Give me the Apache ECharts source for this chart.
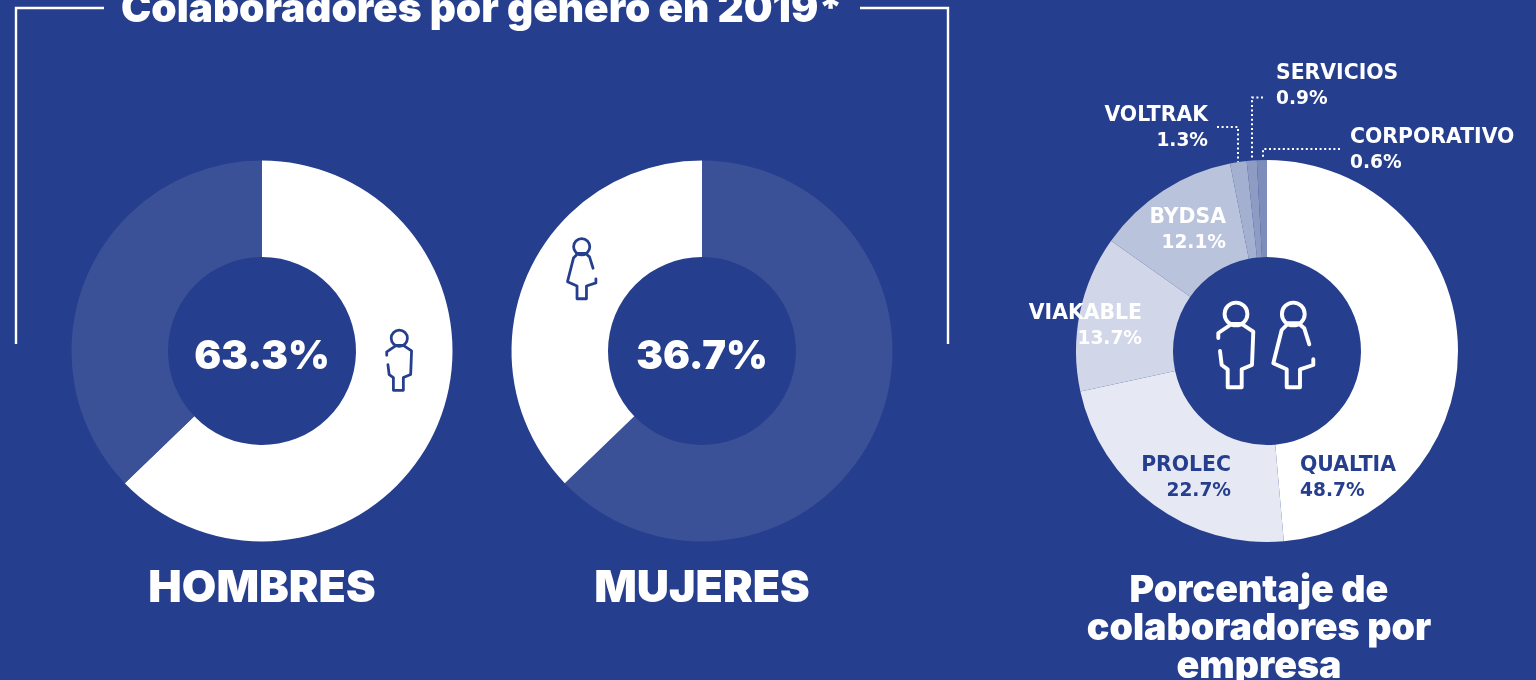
<!DOCTYPE html>
<html>
<head>
<meta charset="utf-8">
<title>Colaboradores por genero en 2019</title>
<script src="https://cdn.jsdelivr.net/npm/echarts@6/dist/echarts.min.js"></script>
<style>
  html, body { margin: 0; padding: 0; background: #263e8e; }
  #chart { width: 1536px; height: 680px; }
</style>
</head>
<body>
<div id="chart"></div>
<script>
const chartTitle = 'Colaboradores por genero en 2019*'
const companyTitle = ['Porcentaje de', 'colaboradores por', 'empresa']
const genderNames = ['HOMBRES', 'MUJERES']
const genderLabels = [63.3, 36.7]
// the rings in the picture are not drawn exactly to their printed labels,
// so the arcs are read off the picture and the labels are kept apart
const hombresArc = [62.8, 37.2]
const mujeresArc = [62.8, 37.2]
const empresas = ['QUALTIA', 'PROLEC', 'VIAKABLE', 'BYDSA', 'VOLTRAK', 'SERVICIOS', 'CORPORATIVO']
const empresaLabels = [48.7, 22.7, 13.7, 12.1, 1.3, 0.9, 0.6]
const empresaArc = [48.6, 23.0, 13.2, 12.1, 1.4, 0.85, 0.85]

const NAVY = '#263e8e'
const DIM = '#3b5197'
const WHITE = '#ffffff'
const FONT = 'Inter, "Noto Sans", sans-serif'
const LABEL_FONT = '"DejaVu Sans", sans-serif'
const empresaColors = ['#ffffff', '#e6e9f3', '#d1d7e8', '#bac3dc', '#a4b0d0', '#8e9cc4', '#7d8dbb']
const empresaLabelColors = [NAVY, NAVY, WHITE, WHITE, WHITE, WHITE, WHITE]
// anchor of each company label: x, y of the text block, alignment
const empresaLabelPos = [
  [1300, 478, 'left'],
  [1231, 478, 'right'],
  [1142, 326, 'right'],
  [1226, 230, 'right'],
  [1208, 128, 'right'],
  [1276, 86, 'left'],
  [1350, 150, 'left']
]

// icon outlines, relative to the centre of the head
const manParts = [[-17.7, 24], [-17.7, 19], [-4.3, 10], [5.7, 10], [17.3, 17.7], [16, 51], [5.7, 55.3], [5.7, 73.3], [-8.3, 73.3], [-8.3, 55.3], [-14.3, 51], [-16, 37]]
const womanParts = [[16, 30.3], [11, 14.3], [5, 9.3], [-5, 9.3], [-11.6, 16], [-20, 49.3], [-6.6, 55.3], [-6.6, 73.3], [6.7, 73.3], [6.7, 55.3], [20, 51], [20, 45.3]]

function icon(points, x, y, scale, color) {
  const style = { fill: null, stroke: color, lineWidth: 3.9, lineCap: 'round', lineJoin: 'round' }
  return {
    type: 'group', x, y, scaleX: scale, scaleY: scale,
    children: [
      { type: 'circle', z: 20, shape: { cx: 0, cy: 0, r: 11.4 }, style },
      { type: 'polyline', z: 20, shape: { points }, style }
    ]
  }
}

function text(str, x, y, size, weight) {
  return {
    type: 'text', x, y, z: 20,
    style: {
      text: str, fill: WHITE, font: `${weight} ${size}px ${FONT}`,
      textAlign: 'center', textVerticalAlign: 'middle'
    }
  }
}

function leader(points) {
  return {
    type: 'polyline', z: 20,
    shape: { points },
    style: { fill: null, stroke: WHITE, lineWidth: 2, lineDash: [2, 2.6] }
  }
}

function bracket(points) {
  return {
    type: 'polyline', z: 20,
    shape: { points },
    style: { fill: null, stroke: WHITE, lineWidth: 2.4 }
  }
}

function genderPie(cx, values, colors) {
  return {
    type: 'pie',
    center: [cx, 351],
    radius: [94, 190.5],
    startAngle: 90,
    clockwise: true,
    silent: true,
    animation: false,
    label: { show: false },
    labelLine: { show: false },
    data: values.map((v, i) => ({ value: v, itemStyle: { color: colors[i] } }))
  }
}

const chart = echarts.init(document.getElementById('chart'))

chart.setOption({
  backgroundColor: NAVY,
  animation: false,
  series: [
    genderPie(262, hombresArc, [WHITE, DIM]),
    genderPie(702, mujeresArc, [DIM, WHITE]),
    {
      type: 'pie',
      center: [1267, 351],
      radius: [94, 191],
      startAngle: 90,
      clockwise: true,
      silent: true,
      animation: false,
      avoidLabelOverlap: false,
      label: {
        show: true,
        position: 'inside',
        formatter: (p) => `{n|${p.name}}\n{v|${empresaLabels[p.dataIndex]}%}`,
        fontFamily: LABEL_FONT,
        fontWeight: 700,
        rich: {
          n: { fontFamily: LABEL_FONT, fontWeight: 700, fontSize: 20.4, lineHeight: 25.5 },
          v: { fontFamily: LABEL_FONT, fontWeight: 700, fontSize: 18.6, lineHeight: 25.5 }
        }
      },
      labelLine: { show: false },
      labelLayout: (params) => {
        const p = empresaLabelPos[params.dataIndex]
        return { x: p[0], y: p[1], align: p[2], verticalAlign: 'middle' }
      },
      data: empresas.map((name, i) => ({
        name,
        value: empresaArc[i],
        itemStyle: { color: empresaColors[i] },
        label: { color: empresaLabelColors[i] }
      }))
    }
  ],
  graphic: [
    bracket([[16, 344], [16, 8], [104, 8]]),
    bracket([[860, 8], [948, 8], [948, 344]]),
    text(chartTitle, 482, 10, 40.6, 900),
    text(genderLabels[0] + '%', 262, 357, 40, 900),
    text(genderLabels[1] + '%', 702, 357, 40, 900),
    text(genderNames[0], 262, 589, 44.6, 900),
    text(genderNames[1], 702, 589, 44.6, 900),
    text(companyTitle[0], 1259, 591, 37.6, 900),
    text(companyTitle[1], 1259, 629, 37.6, 900),
    text(companyTitle[2], 1259, 667, 37.6, 900),
    leader([[1217, 127], [1238, 127], [1238, 162]]),
    leader([[1263, 97.5], [1252, 97.5], [1252, 159]]),
    leader([[1340, 149], [1263, 149], [1263, 158]]),
    icon(manParts, 1236, 314, 1, WHITE),
    icon(womanParts, 1293.3, 314, 1, WHITE),
    icon(manParts, 399.3, 338.3, 0.71, NAVY),
    icon(womanParts, 581.7, 246.7, 0.71, NAVY)
  ]
})
</script>
</body>
</html>
